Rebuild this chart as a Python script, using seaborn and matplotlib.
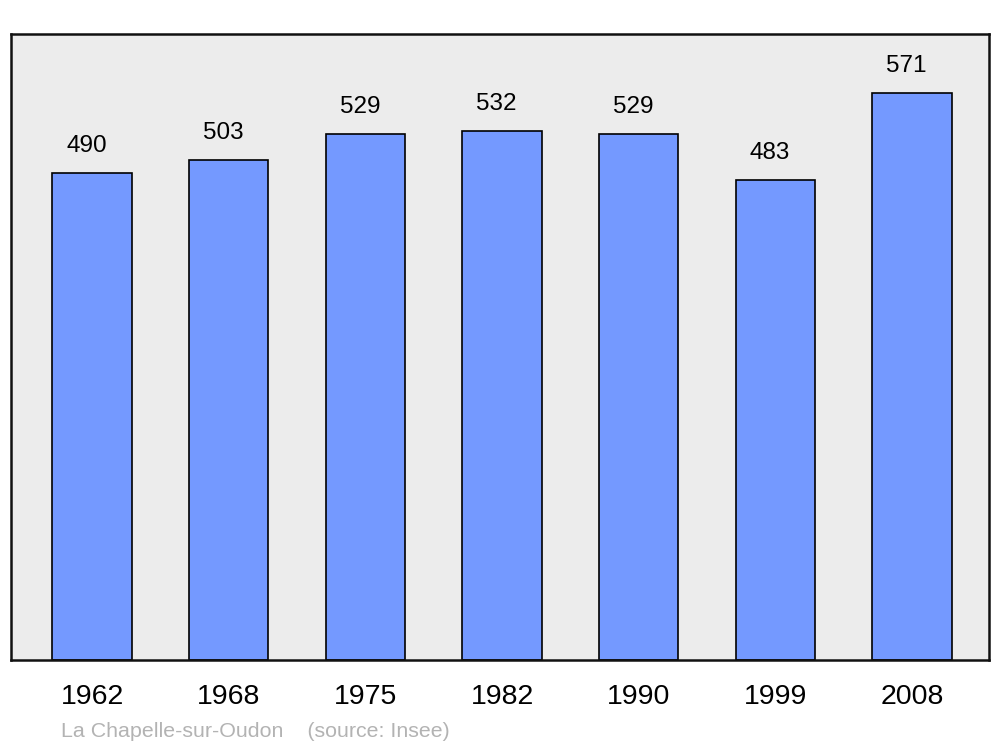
import matplotlib
matplotlib.use("Agg")
import matplotlib.pyplot as plt
import seaborn as sns
import pandas as pd

years = ["1962", "1968", "1975", "1982", "1990", "1999", "2008"]
population = [490, 503, 529, 532, 529, 483, 571]

sns.set_style("white")
plt.rcParams["font.family"] = ["Liberation Sans", "DejaVu Sans"]
plt.rcParams["text.color"] = "black"
plt.rcParams["xtick.color"] = "black"

df = pd.DataFrame({"year": years, "pop": population})

fig = plt.figure(figsize=(10, 7.47), dpi=100)
ax = fig.add_axes([0.011, 0.1165, 0.978, 0.838])
ax.set_facecolor("#ececec")

sns.barplot(data=df, x="year", y="pop", color="#7499ff", saturation=1,
            edgecolor="black", linewidth=1.2, width=0.58, ax=ax)

for bar, val in zip(ax.patches, population):
    ax.annotate(f"{val}", (bar.get_x() + bar.get_width() / 2 - 0.04, bar.get_height()),
                xytext=(0, 11.5), textcoords="offset points",
                ha="center", va="bottom", fontsize=17.5, color="black")

ax.set_xlim(-0.593, 6.563)
ax.set_ylim(0, 630)
ax.set_yticks([])
ax.set_xlabel("")
ax.set_ylabel("")
ax.tick_params(axis="x", length=0, pad=17, labelsize=20.5, labelcolor="black")
for lbl in ax.get_xticklabels():
    lbl.set_x(lbl.get_position()[0])
for s in ax.spines.values():
    s.set_linewidth(1.8)
    s.set_color("#111111")

fig.text(0.061, 1 - 737 / 747, "La Chapelle-sur-Oudon    (source: Insee)",
         color="#b3b3b3", fontsize=15.4, va="baseline", ha="left")

fig.savefig("out.png", dpi=100)
